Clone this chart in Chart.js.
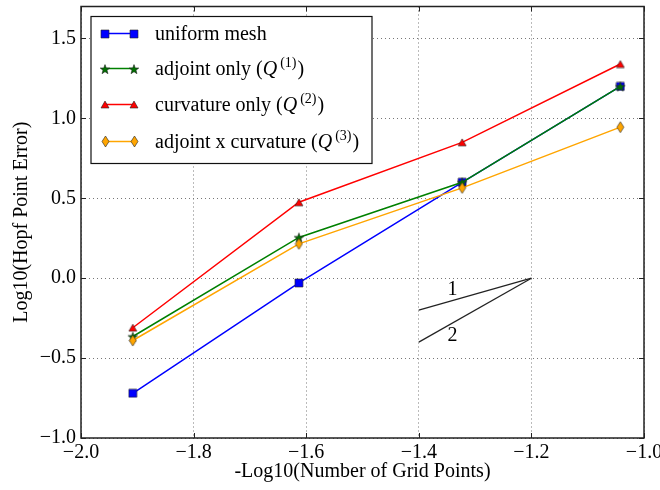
<!DOCTYPE html>
<html>
<head>
<meta charset="utf-8">
<script src="https://cdn.jsdelivr.net/npm/chart.js@4.4.0/dist/chart.umd.min.js"></script>
<style>
  html, body { margin: 0; padding: 0; background: #fff; }
</style>
</head>
<body>
<canvas id="hopfChart" width="660" height="490"></canvas>
<script>
// values
const gridX = [-1.908, -1.613, -1.323, -1.042];
const uniformMesh = [-0.72, -0.03, 0.60, 1.20];
const adjointOnly = [-0.365, 0.255, 0.60, 1.20];
const curvatureOnly = [-0.31, 0.475, 0.85, 1.34];
const adjointCurvature = [-0.39, 0.215, 0.565, 0.945];

const seriesNames = ["uniform mesh", "adjoint only", "curvature only", "adjoint x curvature"];
const seriesSup = [null, "(1)", "(2)", "(3)"];

// slope guide triangle
const slopeX = [-1.4, -1.2];
const slopeOne = [-0.2, 0.0];
const slopeTwo = [-0.4, 0.0];
const slopeLabels = ["1", "2"];
const slopeLabelX = [-1.34, -1.34];
const slopeLabelY = [-0.07, -0.36];

const xTicks = [-2.0, -1.8, -1.6, -1.4, -1.2, -1.0];
const yTicks = [-1.0, -0.5, 0.0, 0.5, 1.0, 1.5];

const SERIF = "'Liberation Serif', 'DejaVu Serif', serif";
Chart.defaults.font.family = SERIF;
Chart.defaults.font.size = 20;
Chart.defaults.color = "#000";

// marker images, drawn once and handed to chart.js as pointStyle
function makeMarker(shape, fill, w, h) {
  const c = document.createElement("canvas");
  c.width = w + 2;
  c.height = h + 2;
  const g = c.getContext("2d");
  const cx = c.width / 2, cy = c.height / 2;
  g.beginPath();
  if (shape === "square") {
    g.rect(1, 1, w, h);
  } else if (shape === "triangle") {
    g.moveTo(cx, 1);
    g.lineTo(1 + w, 1 + h);
    g.lineTo(1, 1 + h);
    g.closePath();
  } else if (shape === "diamond") {
    g.moveTo(cx, 1);
    g.lineTo(1 + w, cy);
    g.lineTo(cx, 1 + h);
    g.lineTo(1, cy);
    g.closePath();
  } else if (shape === "star") {
    const ro = w / 2, ri = ro * 0.42;
    for (let i = 0; i < 10; i++) {
      const r = i % 2 ? ri : ro;
      const a = -Math.PI / 2 + i * Math.PI / 5;
      const px = cx + r * Math.cos(a), py = cy + 0.6 + r * Math.sin(a);
      if (i === 0) g.moveTo(px, py); else g.lineTo(px, py);
    }
    g.closePath();
  }
  g.fillStyle = fill;
  g.fill();
  g.strokeStyle = "#222";
  g.lineWidth = 0.6;
  g.stroke();
  return c;
}

const markers = [
  makeMarker("square", "#0000ff", 8, 8),
  makeMarker("star", "#007000", 10, 10),
  makeMarker("triangle", "#ff0000", 8, 7),
  makeMarker("diamond", "#ffa500", 7, 11),
];
const lineColors = ["#0000ff", "#008000", "#ff0000", "#ffa500"];
const seriesValues = [uniformMesh, adjointOnly, curvatureOnly, adjointCurvature];

const toPoints = (xs, ys) => xs.map((x, i) => ({ x: x, y: ys[i] }));

const datasets = seriesValues.map((vals, i) => ({
  label: seriesNames[i],
  data: toPoints(gridX, vals),
  borderColor: lineColors[i],
  borderWidth: 1.5,
  pointStyle: markers[i],
  pointRadius: 5,
  order: 4 - i,
}));
[slopeOne, slopeTwo].forEach((vals) => {
  datasets.push({
    label: "",
    data: toPoints(slopeX, vals),
    borderColor: "#222",
    borderWidth: 1.2,
    pointRadius: 0,
    order: 10,
  });
});

const minusFmt = (v) => (v < -1e-9 ? "\u2212" : "") + Math.abs(v).toFixed(1);

// keep the plot box where the reference has it
const noEdgePad = (s) => {
  s.paddingTop = 0;
  s.paddingBottom = 0;
  s.paddingLeft = 0;
  s.paddingRight = 0;
};

// box, inward ticks, in-plot legend and slope labels
const decorPlugin = {
  id: "decor",
  afterDatasetsDraw(chart) {
    const { ctx, chartArea: a, scales } = chart;
    const x = scales.x, y = scales.y;
    ctx.save();

    // slope labels
    ctx.font = "20px " + SERIF;
    ctx.fillStyle = "#000";
    ctx.textAlign = "center";
    ctx.textBaseline = "middle";
    slopeLabels.forEach((t, i) => {
      ctx.fillText(t, x.getPixelForValue(slopeLabelX[i]), y.getPixelForValue(slopeLabelY[i]));
    });

    // frame and inward ticks
    ctx.strokeStyle = "#222";
    ctx.lineWidth = 1.5;
    ctx.strokeRect(a.left, a.top, a.width, a.height);
    ctx.lineWidth = 1;
    ctx.beginPath();
    const tl = 5;
    xTicks.forEach((v) => {
      const px = Math.round(x.getPixelForValue(v)) + 0.5;
      ctx.moveTo(px, a.bottom); ctx.lineTo(px, a.bottom - tl);
      ctx.moveTo(px, a.top); ctx.lineTo(px, a.top + tl);
    });
    yTicks.forEach((v) => {
      const py = Math.round(y.getPixelForValue(v)) + 0.5;
      ctx.moveTo(a.left, py); ctx.lineTo(a.left + tl, py);
      ctx.moveTo(a.right, py); ctx.lineTo(a.right - tl, py);
    });
    ctx.stroke();

    // legend
    const bx = a.left + 10, by = a.top + 10, bw = 281, bh = 147;
    ctx.fillStyle = "#fff";
    ctx.fillRect(bx, by, bw, bh);
    ctx.strokeStyle = "#111";
    ctx.lineWidth = 1.2;
    ctx.strokeRect(bx, by, bw, bh);
    const rowY = [17, 52, 88, 125];
    seriesNames.forEach((name, i) => {
      const ry = by + rowY[i];
      const x0 = bx + 14, x1 = bx + 43;
      ctx.strokeStyle = lineColors[i];
      ctx.lineWidth = 1.5;
      ctx.beginPath();
      ctx.moveTo(x0, ry); ctx.lineTo(x1, ry);
      ctx.stroke();
      const m = markers[i];
      ctx.drawImage(m, Math.round(x0 - m.width / 2), Math.round(ry - m.height / 2));
      ctx.drawImage(m, Math.round(x1 - m.width / 2), Math.round(ry - m.height / 2));

      ctx.fillStyle = "#000";
      ctx.textAlign = "left";
      ctx.textBaseline = "alphabetic";
      let tx = bx + 64;
      const base = ry + 6;
      ctx.font = "20px " + SERIF;
      if (!seriesSup[i]) {
        ctx.fillText(name, tx, base);
        return;
      }
      const head = name + " (";
      ctx.fillText(head, tx, base);
      tx += ctx.measureText(head).width;
      ctx.font = "italic 20px " + SERIF;
      ctx.fillText("Q", tx, base);
      tx += ctx.measureText("Q").width + 3;
      ctx.font = "14px " + SERIF;
      ctx.fillText(seriesSup[i], tx, base - 8);
      tx += ctx.measureText(seriesSup[i]).width + 1;
      ctx.font = "20px " + SERIF;
      ctx.fillText(")", tx, base);
    });
    ctx.restore();
  },
};

new Chart(document.getElementById("hopfChart"), {
  type: "line",
  data: { datasets: datasets },
  options: {
    responsive: false,
    animation: false,
    layout: { padding: { top: 5, right: 16, left: 0, bottom: 0 } },
    plugins: { legend: { display: false }, tooltip: { enabled: false } },
    scales: {
      x: {
        type: "linear",
        min: -2.0,
        max: -1.0,
        afterBuildTicks: (s) => { s.ticks = xTicks.map((v) => ({ value: v })); },
        afterFit: (s) => { s.height = 52; noEdgePad(s); },
        ticks: { callback: minusFmt, padding: 3, autoSkip: false, maxRotation: 0 },
        grid: { color: "#777", drawTicks: false, lineWidth: 1 },
        border: { display: false, dash: [1, 3] },
        title: { display: true, text: "-Log10(Number of Grid Points)", padding: { top: 0, bottom: 6 } },
      },
      y: {
        type: "linear",
        min: -1.0,
        max: 1.7,
        afterBuildTicks: (s) => { s.ticks = yTicks.map((v) => ({ value: v })); },
        afterFit: (s) => { s.width = 81; noEdgePad(s); },
        ticks: { callback: minusFmt, padding: 5 },
        grid: { color: "#777", drawTicks: false, lineWidth: 1 },
        border: { display: false, dash: [1, 3] },
        title: { display: true, text: "Log10(Hopf Point Error)", padding: { top: 10, bottom: 0 } },
      },
    },
  },
  plugins: [decorPlugin],
});
</script>
</body>
</html>
